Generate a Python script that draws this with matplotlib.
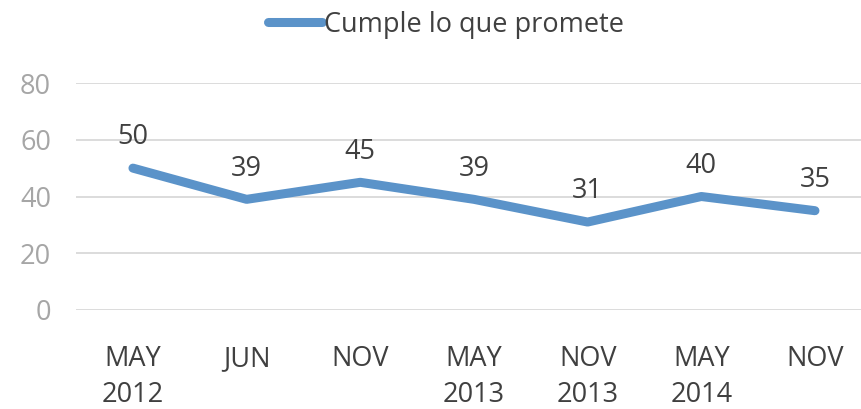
import matplotlib.pyplot as plt
from matplotlib.lines import Line2D

# survey waves and values
periods = ["MAY\n2012", "JUN", "NOV", "MAY\n2013", "NOV\n2013", "MAY\n2014", "NOV"]
values = [50, 39, 45, 39, 31, 40, 35]
series_name = "Cumple lo que promete"
yticks = [0, 20, 40, 60, 80]

line_color = "#5b93c9"
fs = 19.5
plt.rcParams['font.family'] = ['Open Sans', 'DejaVu Sans']

fig = plt.figure(figsize=(8.61, 4.09), dpi=100)
ax = fig.add_axes([76/861, (409-310)/409, (861-76)/861, 227/409])

x = list(range(len(values)))
ax.plot(x, values, color=line_color, linewidth=6.5, solid_capstyle='round',
        solid_joinstyle='round', zorder=3)

for xi, v in zip(x, values):
    ax.annotate(str(v), (xi, v), xytext=(0, 12), textcoords='offset points',
                ha='center', va='bottom', fontsize=fs, color='#404040')

ax.set_xlim(-0.501, 6.405)
ax.set_ylim(0, 80)
ax.set_yticks(yticks)
ax.set_xticks(x)
ax.set_xticklabels(periods, fontsize=fs, color='#404040', linespacing=1.4)
ax.tick_params(axis='y', labelsize=fs, labelcolor='#a6a6a6', length=0, pad=18)
ax.tick_params(axis='x', length=0, pad=25)
ax.grid(axis='y', color='#d9d9d9', linewidth=1.3)
ax.set_axisbelow(True)
for s in ax.spines.values():
    s.set_visible(False)

handle = Line2D([0], [0], color=line_color, linewidth=6.5, solid_capstyle='round')
fig.legend([handle], [series_name], loc='center', bbox_to_anchor=(0.518, 0.939),
           frameon=False, fontsize=fs, handlelength=2.0, handletextpad=0.1,
           labelcolor='#404040')

fig.savefig("out.png", dpi=100)
